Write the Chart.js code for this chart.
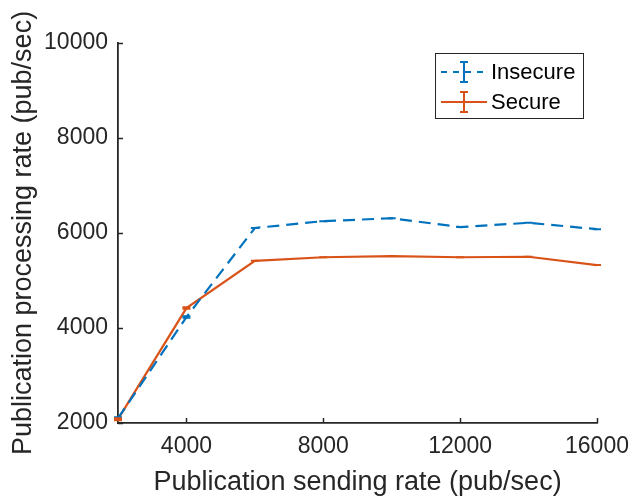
<!DOCTYPE html>
<html><head><meta charset="utf-8">
<script src="https://cdn.jsdelivr.net/npm/chart.js@4/dist/chart.umd.min.js"></script>
<style>html,body{margin:0;padding:0;background:#fff}#w{width:631px;height:499px}</style>
</head><body><div id="w"><canvas id="c"></canvas></div>
<script>
const sendingRates = [2000, 4000, 6000, 8000, 10000, 12000, 14000, 16000];
const insecureRates = [2100, 4230, 6105, 6250, 6310, 6125, 6215, 6080];
const insecureErr = [20, 15, 0, 0, 0, 0, 0, 0];
const secureRates = [2080, 4420, 5415, 5490, 5515, 5490, 5500, 5325];
const secureErr = [20, 15, 0, 0, 0, 0, 0, 0];
const xTicks = [4000, 8000, 12000, 16000];
const yTicks = [2000, 4000, 6000, 8000, 10000];
const seriesNames = ['Insecure', 'Secure'];

const AX = '#262626';
const FONT = '"Liberation Sans", Arial, sans-serif';
const BLUE = '#0072BD', RED = '#D95319';

const errPlugin = {
  id: 'errbars',
  afterDatasetsDraw(chart) {
    const ctx = chart.ctx, xs = chart.scales.x, ys = chart.scales.y;
    chart.data.datasets.forEach(ds => {
      ctx.save();
      ctx.strokeStyle = ds.borderColor; ctx.lineWidth = 2; ctx.setLineDash([]);
      ds.data.forEach((p, i) => {
        const e = ds.err[i];
        const px = xs.getPixelForValue(p.x);
        const y1 = ys.getPixelForValue(p.y - e), y2 = ys.getPixelForValue(p.y + e);
        ctx.beginPath();
        ctx.moveTo(px, y1); ctx.lineTo(px, y2);
        ctx.moveTo(px - 4, y1); ctx.lineTo(px + 4, y1);
        ctx.moveTo(px - 4, y2); ctx.lineTo(px + 4, y2);
        ctx.stroke();
      });
      ctx.restore();
    });
  }
};

const axisPlugin = {
  id: 'matlabTicks',
  afterDraw(chart) {
    const ctx = chart.ctx, xs = chart.scales.x, ys = chart.scales.y, a = chart.chartArea;
    ctx.save();
    ctx.strokeStyle = AX; ctx.lineWidth = 1.5;
    xs.ticks.forEach(t => {
      const px = Math.round(xs.getPixelForValue(t.value)) + 0.5;
      ctx.beginPath(); ctx.moveTo(px, a.bottom); ctx.lineTo(px, a.bottom - 5); ctx.stroke();
    });
    ys.ticks.forEach(t => {
      const py = Math.round(ys.getPixelForValue(t.value)) + 0.5;
      ctx.beginPath(); ctx.moveTo(a.left, py); ctx.lineTo(a.left + 5, py); ctx.stroke();
    });
    // legend
    const L = 435, T = 53, R = 583, B = 118;
    ctx.fillStyle = '#fff'; ctx.fillRect(L, T, R - L, B - T);
    ctx.strokeStyle = AX; ctx.lineWidth = 1;
    ctx.strokeRect(L + 0.5, T + 0.5, R - L, B - T);
    const rows = [[BLUE, [6, 6], 72], [RED, [], 102]];
    rows.forEach((r, i) => {
      ctx.strokeStyle = r[0]; ctx.lineWidth = 2; ctx.setLineDash(r[1]);
      ctx.beginPath(); ctx.moveTo(441, r[2]); ctx.lineTo(487, r[2]); ctx.stroke();
      ctx.setLineDash([]);
      ctx.beginPath();
      ctx.moveTo(464, r[2] - 10); ctx.lineTo(464, r[2] + 10);
      ctx.moveTo(460, r[2] - 10); ctx.lineTo(468, r[2] - 10);
      ctx.moveTo(460, r[2] + 10); ctx.lineTo(468, r[2] + 10);
      ctx.stroke();
      ctx.fillStyle = '#000'; ctx.font = '22px ' + FONT; ctx.textBaseline = 'middle';
      ctx.fillText(seriesNames[i], 491, r[2] + 1);
    });
    ctx.restore();
  }
};

new Chart(document.getElementById('c'), {
  type: 'line',
  data: {
    datasets: [
      { label: seriesNames[0], data: sendingRates.map((x, i) => ({x, y: insecureRates[i]})), err: insecureErr,
        borderColor: BLUE, borderWidth: 2.2, borderDash: [12, 7], pointRadius: 0, tension: 0, fill: false },
      { label: seriesNames[1], data: sendingRates.map((x, i) => ({x, y: secureRates[i]})), err: secureErr,
        borderColor: RED, borderWidth: 2.2, pointRadius: 0, tension: 0, fill: false }
    ]
  },
  options: {
    responsive: true, maintainAspectRatio: false, animation: false,
    layout: { padding: { left: 0, top: 43, right: 34, bottom: 0 } },
    plugins: { legend: { display: false }, tooltip: { enabled: false } },
    scales: {
      x: {
        type: 'linear', min: 2000, max: 16000,
        afterBuildTicks: s => { s.ticks = xTicks.map(v => ({value: v})); },
        afterFit: s => { s.height = 76; s.paddingRight = 0; },
        grid: { display: false, drawTicks: false },
        border: { display: true, color: AX, width: 1.8 },
        ticks: { color: AX, font: { size: 23, family: FONT }, padding: 10, maxRotation: 0, callback: v => String(v) },
        title: { display: true, text: 'Publication sending rate (pub/sec)', color: AX, font: { size: 27, family: FONT }, padding: { top: 0, bottom: 0 } }
      },
      y: {
        type: 'linear', min: 2000, max: 10000,
        afterBuildTicks: s => { s.ticks = yTicks.map(v => ({value: v})); },
        afterFit: s => { s.width = 118; },
        grid: { display: false, drawTicks: false },
        border: { display: true, color: AX, width: 1.8 },
        ticks: { color: AX, font: { size: 23, family: FONT }, padding: 10, callback: v => String(v) },
        title: { display: true, text: 'Publication processing rate (pub/sec)', color: AX, font: { size: 27, family: FONT }, padding: { top: 7, bottom: 0 } }
      }
    }
  },
  plugins: [errPlugin, axisPlugin]
});
</script></body></html>
